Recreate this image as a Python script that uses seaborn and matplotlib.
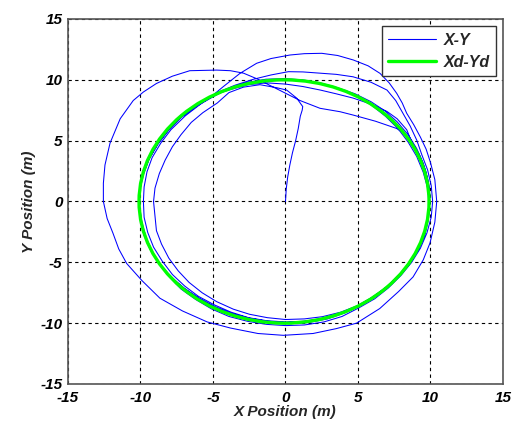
import pandas as pd
import matplotlib
matplotlib.use("Agg")
import matplotlib.pyplot as plt
from matplotlib.patches import Circle
from matplotlib.lines import Line2D
import seaborn as sns

# start: leaves the origin, curls onto the circle
START_X = [0.0, 0.05, 0.15, 0.3, 0.48, 0.7, 0.88, 1.02, 1.15, 1.19, 0.77, 0.08, -0.6, -1.76, -2.9, -3.9]
START_Y = [0.0, 1.0, 2.0, 3.0, 4.0, 5.0, 6.0, 7.0, 7.5, 7.8, 8.5, 9.16, 9.35, 9.6, 9.4, 8.95]

# first lap, inside the circle on the left
LAP_A_X = [-4.7, -5.7, -6.5, -7.2, -7.8, -8.3, -8.7, -9.0, -9.1, -9.0, -8.9, -8.55, -8.05, -7.4, -6.65,
           -5.75, -4.75, -3.6, -2.48, -1.25, 0.0, 1.3, 2.54, 3.8, 4.95, 6.05, 7.0, 7.85, 8.57, 9.2,
           9.61, 9.87, 9.95, 9.85, 9.56, 9.15, 8.66]
LAP_A_Y = [8.1, 7.3, 6.5, 5.5, 4.5, 3.4, 2.3, 1.1, 0.0, -1.2, -2.4, -3.5, -4.65, -5.7, -6.65,
           -7.5, -8.23, -8.85, -9.27, -9.55, -9.7, -9.65, -9.47, -9.1, -8.57, -7.85, -7.0, -6.05, -4.95, -3.8,
           -2.58, -1.3, 0.0, 1.3, 2.56, 3.8, 5.0]

# big outer loop and the high arc over the top
OUTER_X = [8.2, 7.67, 6.2, 4.68, 3.76, 2.38, 1.0, 0.0, -1.0, -2.0, -2.9, -3.8, -4.75, -6.6, -7.8,
           -8.9, -9.8, -10.5, -11.4, -12.1, -12.45, -12.56, -12.56, -12.3, -11.9, -11.5, -10.95, -9.9, -8.66, -7.1,
           -5.4, -3.8, -1.9, -0.15, 1.9, 3.5, 4.9, 6.5, 7.8, 8.8, 9.5, 9.97, 10.3, 10.43, 10.3,
           10.0, 9.7, 9.3, 8.85, 8.36, 8.05, 7.67, 7.15, 6.52, 5.7, 4.68, 3.6, 2.5, 1.3, 0.31,
           -1.0, -1.99, -3.14, -4.29, -5.2]
OUTER_Y = [5.6, 6.0, 6.6, 7.1, 7.38, 7.66, 8.3, 8.9, 9.5, 10.1, 10.55, 10.75, 10.8, 10.75, 10.3,
           9.7, 9.0, 8.3, 6.8, 4.8, 3.0, 1.5, 0.0, -1.4, -2.6, -3.9, -5.1, -6.5, -7.95, -9.0,
           -9.9, -10.4, -10.85, -11.0, -10.85, -10.45, -10.0, -8.8, -7.4, -6.2, -4.8, -3.4, -1.7, 0.0, 1.8,
           3.2, 4.3, 5.3, 6.3, 7.25, 8.1, 8.89, 9.75, 10.53, 11.15, 11.63, 12.0, 12.18, 12.15, 12.04,
           11.75, 11.36, 10.53, 9.44, 8.55]

LAP_B_X = [-6.3, -7.2, -8.05, -8.75, -9.35, -9.76, -10.0, -10.1, -10.0, -9.76, -9.35, -8.75, -8.05, -7.2, -6.2,
           -5.1, -3.9, -2.61, -1.3, 0.0, 1.3, 2.65, 3.9, 5.05, 6.15, 7.1, 7.95, 8.7, 9.3, 9.75,
           10.05, 10.15, 10.05, 9.8, 9.4, 9.05, 8.6, 8.1, 7.6, 7.0, 5.9, 4.66, 3.5, 2.4, 1.2,
           0.2, -1.0, -2.2, -3.5, -4.6]
LAP_B_Y = [7.8, 7.1, 6.1, 5.05, 3.85, 2.61, 1.3, 0.0, -1.3, -2.61, -3.85, -5.05, -6.15, -7.2, -8.05,
           -8.83, -9.45, -9.85, -10.1, -10.2, -10.15, -9.9, -9.45, -8.75, -8.0, -7.1, -6.1, -5.0, -3.85, -2.6,
           -1.3, 0.0, 1.3, 2.6, 3.85, 5.05, 6.2, 7.25, 8.3, 9.16, 9.8, 10.25, 10.45, 10.55, 10.65,
           10.67, 10.4, 10.05, 9.55, 9.0]

LAP_C_X = [-5.7, -6.9, -7.9, -8.6, -9.2, -9.55, -9.75, -9.8, -9.75, -9.5, -9.1, -8.5, -7.8, -6.95, -6.0,
           -4.9, -3.75, -2.55, -1.3, 0.0, 1.3, 2.6, 3.8, 4.95, 6.0, 7.0, 7.85, 8.6, 9.2, 9.6,
           9.85, 9.95, 9.9, 9.65, 9.25, 8.7, 8.36, 7.7, 7.0, 5.9, 4.66, 3.5, 2.4, 1.2, 0.0,
           -1.3, -2.6, -3.8]
LAP_C_Y = [8.15, 7.05, 5.9, 4.8, 3.6, 2.45, 1.2, 0.0, -1.3, -2.55, -3.75, -4.9, -6.0, -6.95, -7.8,
           -8.5, -9.1, -9.55, -9.8, -9.9, -9.85, -9.65, -9.25, -8.6, -7.85, -7.0, -6.0, -4.95, -3.8, -2.6,
           -1.3, 0.0, 1.3, 2.6, 3.8, 4.9, 5.9, 6.8, 7.4, 8.0, 8.5, 8.85, 9.16, 9.45, 9.65,
           9.75, 9.6, 9.2]

LAP_D_X = [-4.95, -6.1, -7.15, -8.05, -8.8, -9.4, -9.8, -10.05, -10.1, -10.0, -9.75, -9.3, -8.7, -7.95, -7.05,
           -6.0, -4.85, -3.6, -2.3, -1.0, 0.3, 1.6, 2.9, 4.1, 5.3, 6.35, 7.3, 8.1, 8.8, 9.35,
           9.7, 9.9, 9.95, 9.8, 9.5, 9.05, 8.45, 7.7, 6.85, 5.9, 4.8, 3.6, 2.4, 1.15, -0.1,
           -1.35, -2.6, -3.8]
LAP_D_Y = [8.75, 7.9, 7.0, 5.9, 4.75, 3.5, 2.2, 0.9, -0.4, -1.6, -2.8, -4.0, -5.1, -6.15, -7.1,
           -7.95, -8.7, -9.3, -9.75, -10.0, -10.05, -9.95, -9.65, -9.15, -8.45, -7.6, -6.7, -5.7, -4.55, -3.3,
           -2.0, -0.7, 0.6, 1.9, 3.15, 4.35, 5.5, 6.55, 7.45, 8.2, 8.85, 9.35, 9.75, 10.0, 10.1,
           10.05, 9.8, 9.35]

LAP_E_X = [-5.0, -6.1, -7.2, -8.1, -8.8, -9.4, -9.85, -10.05, -10.05, -9.9, -9.6, -9.15, -8.55, -7.8, -6.95,
           -5.95, -4.85, -3.7, -2.45, -1.2, 0.05, 1.3, 2.55, 3.75, 4.9, 5.95, 6.95, 7.8, 8.55, 9.15,
           9.6, 9.85, 9.9, 9.8, 9.5, 9.05, 8.45, 7.75, 6.9, 5.95, 4.9, 3.75, 2.55, 1.3]
LAP_E_Y = [8.6, 7.85, 6.9, 5.8, 4.7, 3.5, 2.2, 0.9, -0.45, -1.75, -3.0, -4.2, -5.3, -6.3, -7.15,
           -7.95, -8.65, -9.2, -9.6, -9.85, -9.95, -9.85, -9.6, -9.2, -8.65, -7.95, -7.1, -6.2, -5.15, -4.0,
           -2.8, -1.5, -0.2, 1.1, 2.4, 3.7, 4.9, 6.0, 7.0, 7.9, 8.65, 9.25, 9.65, 9.9]

# desired path: circle
XD_CENTER = (-0.1, 0.0)
XD_RADIUS = 10.0

TICKS = [-15, -10, -5, 0, 5, 10, 15]
LEGEND_LABELS = ["X-Y", "Xd-Yd"]

traj = pd.DataFrame({
    "x": START_X + LAP_A_X + OUTER_X + LAP_B_X + LAP_C_X + LAP_D_X + LAP_E_X,
    "y": START_Y + LAP_A_Y + OUTER_Y + LAP_B_Y + LAP_C_Y + LAP_D_Y + LAP_E_Y,
})

sns.set_theme(style="white")
plt.rcParams["font.family"] = ["Liberation Sans", "DejaVu Sans"]

bi = {"weight": "bold", "style": "italic"}

fig = plt.figure(figsize=(5.12, 4.25), dpi=100)
ax = fig.add_axes([0.1328, 0.0965, 0.8496, 0.8588])

sns.lineplot(data=traj, x="x", y="y", sort=False, estimator=None,
             color="#0000ff", linewidth=0.75, ax=ax, legend=False)
ax.add_patch(Circle(XD_CENTER, XD_RADIUS, fill=False, edgecolor="#00ff00",
                    linewidth=2.4, zorder=3))

ax.set_xlim(TICKS[0], TICKS[-1])
ax.set_ylim(TICKS[0], TICKS[-1])
ax.set_xticks(TICKS)
ax.set_yticks(TICKS)
ax.set_xticklabels([str(t) for t in TICKS], fontsize=11, **bi)
ax.set_yticklabels([str(t) for t in TICKS], fontsize=11, **bi)
ax.grid(True, color="black", linestyle=(0, (3, 3)), linewidth=0.8)
for s in ax.spines.values():
    s.set_color("#555555")
    s.set_linewidth(1.2)
ax.tick_params(direction="in", length=4, colors="black")
ax.tick_params(axis="x", pad=5)
ax.tick_params(axis="y", pad=4)

ax.set_xlabel("X Position (m)", fontsize=11, labelpad=0, **bi)
ax.set_ylabel("Y Position (m)", fontsize=11, labelpad=3, **bi)

handles = [Line2D([], [], color="#0000ff", linewidth=0.8),
           Line2D([], [], color="#00ff00", linewidth=2.4)]
leg = ax.legend(handles, LEGEND_LABELS, loc="upper right", fancybox=False, framealpha=1,
                edgecolor="#333333", prop={"size": 11.5, **bi}, handlelength=3.0,
                handletextpad=0.45, borderaxespad=0.45, labelspacing=0.45)
leg.get_frame().set_linewidth(1.0)

plt.savefig("out.png", dpi=100)
plt.close()
